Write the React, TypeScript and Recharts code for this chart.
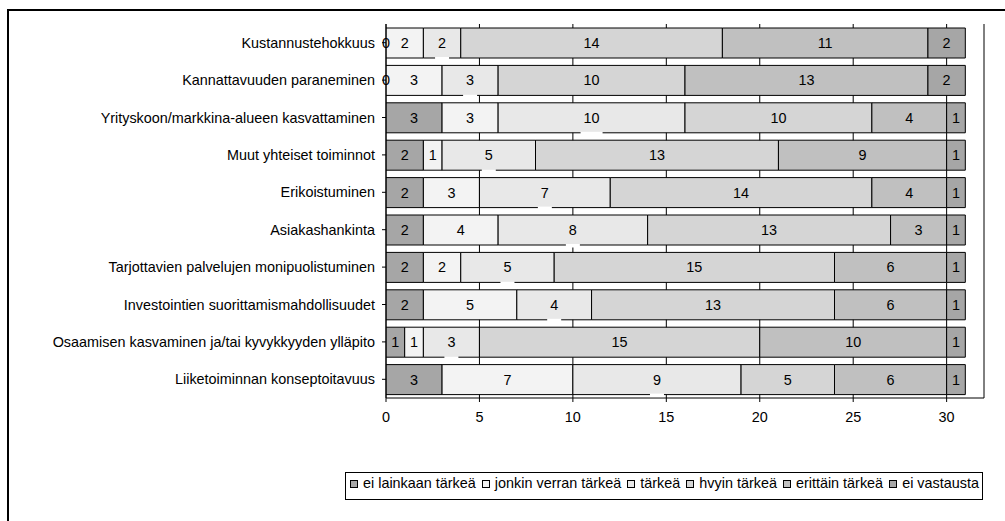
import React from 'react';
import {
  BarChart,
  Bar,
  XAxis,
  YAxis,
  CartesianGrid,
  Legend,
  LabelList,
} from 'recharts';

// Survey categories (top to bottom)
const categories = [
  'Kustannustehokkuus',
  'Kannattavuuden paraneminen',
  'Yrityskoon/markkina-alueen kasvattaminen',
  'Muut yhteiset toiminnot',
  'Erikoistuminen',
  'Asiakashankinta',
  'Tarjottavien palvelujen monipuolistuminen',
  'Investointien suorittamismahdollisuudet',
  'Osaamisen kasvaminen ja/tai kyvykkyyden ylläpito',
  'Liiketoiminnan konseptoitavuus',
];

// Answer counts per importance level
const eiLainkaan = [0, 0, 3, 2, 2, 2, 2, 2, 1, 3];
const jonkinVerran = [2, 3, 3, 1, 3, 4, 2, 5, 1, 7];
const tarkea = [2, 3, 10, 5, 7, 8, 5, 4, 3, 9];
const hvyin = [14, 10, 10, 13, 14, 13, 15, 13, 15, 5];
const erittain = [11, 13, 4, 9, 4, 3, 6, 6, 10, 6];
const eiVastausta = [2, 2, 1, 1, 1, 1, 1, 1, 1, 1];

const seriesNames = [
  'ei lainkaan tärkeä',
  'jonkin verran tärkeä',
  'tärkeä',
  'hvyin tärkeä',
  'erittäin tärkeä',
  'ei vastausta',
];

const xTicks = [0, 5, 10, 15, 20, 25, 30];

const data = categories.map((name, i) => ({
  name,
  s0: eiLainkaan[i],
  s1: jonkinVerran[i],
  s2: tarkea[i],
  s3: hvyin[i],
  s4: erittain[i],
  s5: eiVastausta[i],
}));

const colors = ['#a6a6a6', '#f3f3f3', '#e8e8e8', '#d5d5d5', '#c0c0c0', '#a6a6a6'];

const FONT = '"Liberation Sans", Arial, Helvetica, sans-serif';
const FS = 14.4;

const boxOf = (props: any) => {
  const vb = props.viewBox || {};
  return {
    x: vb.x ?? props.x,
    y: vb.y ?? props.y,
    width: vb.width ?? props.width,
    height: vb.height ?? props.height,
  };
};

// Plain centred value
const renderLabel = (props: any) => {
  const { x, y, width, height } = boxOf(props);
  if (props.value === 0) return null;
  return (
    <text x={x + width / 2} y={y + height / 2} textAnchor="middle" dominantBaseline="central" fontSize={FS} fill="#000">
      {props.value}
    </text>
  );
};

// Second segment also carries the "0" of an empty first segment at the bar start
const renderSecondLabel = (props: any) => {
  const { x, y, width, height } = boxOf(props);
  const first = data[props.index]?.s0;
  return (
    <g>
      {first === 0 && (
        <text x={x} y={y + height / 2} textAnchor="middle" dominantBaseline="central" fontSize={FS} fill="#000">
          {first}
        </text>
      )}
      <text x={x + width / 2} y={y + height / 2} textAnchor="middle" dominantBaseline="central" fontSize={FS} fill="#000">
        {props.value}
      </text>
    </g>
  );
};

// Label for the "tärkeä" segments: the value box spills a little below the bar
const renderBoxedLabel = (props: any) => {
  const { x, y, width, height } = boxOf(props);
  const value = props.value;
  const cx = x + width / 2;
  const cy = y + height / 2;
  const w = String(value).length * 8 + 6;
  return (
    <g>
      <rect x={cx - w / 2} y={y + height - 1} width={w} height={3.5} fill="#fff" />
      <text x={cx} y={cy} textAnchor="middle" dominantBaseline="central" fontSize={FS} fill="#000">
        {value}
      </text>
    </g>
  );
};

const LegendBox = () => (
  <div
    style={{
      boxSizing: 'border-box',
      width: 638,
      height: 28,
      border: '1px solid #000',
      background: '#fff',
      display: 'flex',
      alignItems: 'flex-start',
      justifyContent: 'space-between',
      padding: '2px 3px 0 4px',
      fontSize: FS,
      lineHeight: '17px',
      fontFamily: FONT,
      color: '#000',
      whiteSpace: 'nowrap',
    }}
  >
    {seriesNames.map((n, i) => (
      <span key={n} style={{ display: 'flex', alignItems: 'center' }}>
        <span
          style={{
            display: 'inline-block',
            boxSizing: 'border-box',
            width: 8,
            height: 8,
            border: '1px solid #000',
            background: colors[i],
            marginRight: 5,
          }}
        />
        <span>{n}</span>
      </span>
    ))}
  </div>
);

export default function App() {
  const keys = ['s0', 's1', 's2', 's3', 's4', 's5'];
  const labelRenderers = [renderLabel, renderSecondLabel, renderBoxedLabel, renderLabel, renderLabel, renderLabel];
  return (
    <div
      style={{
        position: 'absolute',
        left: 0,
        top: 0,
        width: 1005,
        height: 521,
        overflow: 'hidden',
        background: '#fff',
        fontFamily: FONT,
      }}
    >
      <div
        style={{
          position: 'absolute',
          left: 7,
          top: 9,
          width: 2000,
          height: 2000,
          borderLeft: '2px solid #000',
          borderTop: '2px solid #000',
        }}
      />
      <div style={{ position: 'absolute', left: 0, top: 0 }}>
        <BarChart
          width={1005}
          height={521}
          data={data}
          layout="vertical"
          margin={{ top: 24, right: 21, bottom: 93, left: 0 }}
          barSize={30}
          style={{ fontFamily: FONT }}
        >
          <CartesianGrid horizontal={false} vertical stroke="#000" strokeWidth={1} />
          <XAxis
            type="number"
            domain={[0, 32]}
            ticks={xTicks}
            interval={0}
            allowDataOverflow
            height={30}
            tickSize={4}
            tickMargin={10}
            stroke="#000"
            tick={{ fill: '#000', fontSize: FS }}
          />
          <YAxis
            type="category"
            dataKey="name"
            width={386}
            tickSize={4}
            tickMargin={7}
            interval={0}
            stroke="#000"
            tick={{ fill: '#000', fontSize: FS }}
          />
          <Legend
            verticalAlign="middle"
            align="center"
            layout="horizontal"
            content={<LegendBox />}
            wrapperStyle={{ position: 'absolute', left: 345, top: 472, width: 638, height: 28 }}
          />
          {keys.map((k, i) => (
            <Bar
              key={k}
              dataKey={k}
              name={seriesNames[i]}
              stackId="a"
              fill={colors[i]}
              stroke="#000"
              strokeWidth={1}
              isAnimationActive={false}
            >
              <LabelList dataKey={k} content={labelRenderers[i]} />
            </Bar>
          ))}
        </BarChart>
      </div>
    </div>
  );
}
